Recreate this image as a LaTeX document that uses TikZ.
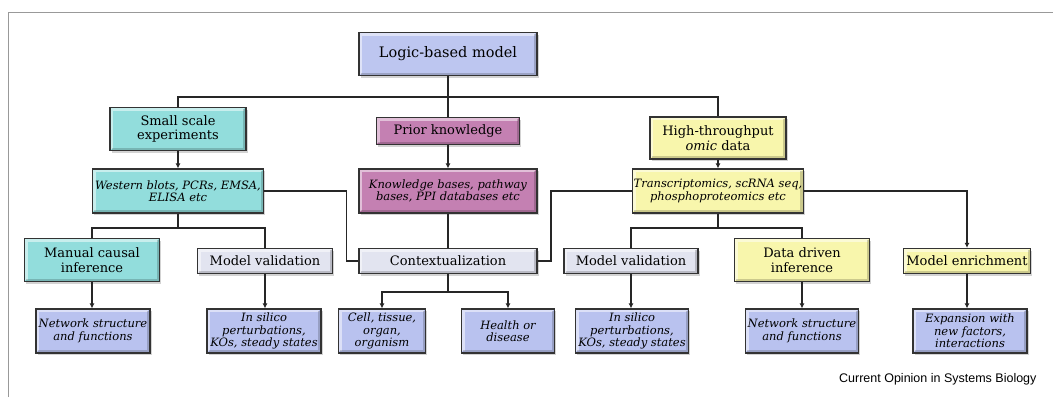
\documentclass[tikz,border=0pt]{standalone}
\usepackage{fontspec}
\setmainfont{DejaVu Serif}
\setsansfont{Liberation Sans}
\usetikzlibrary{arrows.meta,shadows}

\definecolor{logicblue}{RGB}{189,198,240}
\definecolor{leafblue}{RGB}{185,194,239}
\definecolor{expteal}{RGB}{146,221,220}
\definecolor{priormauve}{RGB}{196,128,178}
\definecolor{omicyellow}{RGB}{248,246,172}
\definecolor{stepgray}{RGB}{226,228,240}

\begin{document}
\begin{tikzpicture}[x=1pt,y=-1pt,
  box/.style={draw=black!80,line width=1.2pt,align=center,inner sep=1pt,
    drop shadow={shadow xshift=1.5pt,shadow yshift=-2pt,opacity=.35},
    path picture={
      \draw[white,opacity=.5,line width=2.4pt]
        ([shift={(1.8pt,1.8pt)}]path picture bounding box.south west)
        |- ([shift={(-1.8pt,-1.8pt)}]path picture bounding box.north east);
      \draw[black,opacity=.18,line width=2.4pt]
        ([shift={(1.8pt,1.8pt)}]path picture bounding box.south west)
        -| ([shift={(-1.8pt,-1.8pt)}]path picture bounding box.north east);}},
  label/.style={box,font=\fontsize{13}{14.5}\selectfont},
  detail/.style={box,font=\fontsize{11.5}{12.5}\selectfont\itshape},
  link/.style={line width=1.1pt,black!85},
  tip/.style={link,-{Latex[length=5pt,width=5pt]}}]
\useasboundingbox (0,0) rectangle (1053,397); % adjust bounding box
\draw[black!40,line width=1pt] (8,397) -- (8,12) -- (1053,12);

% top level
\node[label,fill=logicblue,minimum width=178pt,minimum height=43pt,
  font=\fontsize{14.5}{16}\selectfont] (lbm) at (448,54) {Logic-based model};
\node[label,fill=expteal,minimum width=136pt,minimum height=43pt] (sse) at (178,129) {Small scale\\experiments};
\node[label,fill=priormauve,minimum width=143pt,minimum height=27pt] (pk) at (448,131) {Prior knowledge};
\node[label,fill=omicyellow,minimum width=136pt,minimum height=42pt] (hto) at (718,138) {High-throughput\\\emph{omic} data};

% data sources
\node[detail,fill=expteal,minimum width=171pt,minimum height=44pt] (wb) at (178,191) {Western blots, PCRs, EMSA,\\ELISA etc};
\node[detail,fill=priormauve,minimum width=178pt,minimum height=44pt] (kb) at (448,191) {Knowledge bases, pathway\\bases, PPI databases etc};
\node[detail,fill=omicyellow,minimum width=170pt,minimum height=44pt] (tr) at (718,191) {Transcriptomics, scRNA seq,\\phosphoproteomics etc};

% uses
\node[label,fill=expteal,minimum width=135pt,minimum height=43pt] (mci) at (92,260) {Manual causal\\inference};
\node[label,fill=stepgray,minimum width=135pt,minimum height=25pt] (mvl) at (265,261) {Model validation};
\node[label,fill=stepgray,minimum width=178pt,minimum height=25pt] (ctx) at (448,261) {Contextualization};
\node[label,fill=stepgray,minimum width=134pt,minimum height=25pt] (mvr) at (631,261) {Model validation};
\node[label,fill=omicyellow,minimum width=135pt,minimum height=43pt] (ddi) at (802,260) {Data driven\\inference};
\node[label,fill=omicyellow,minimum width=127pt,minimum height=25pt] (me) at (967,261) {Model enrichment};

% outcomes
\node[detail,fill=leafblue,minimum width=114pt,minimum height=44pt] (nsl) at (93,331) {Network structure\\and functions};
\node[detail,fill=leafblue,minimum width=114pt,minimum height=44pt] (isl) at (264,331) {In silico\\perturbations,\\KOs, steady states};
\node[detail,fill=leafblue,minimum width=87pt,minimum height=44pt] (cell) at (382,331) {Cell, tissue,\\organ,\\organism};
\node[detail,fill=leafblue,minimum width=93pt,minimum height=44pt] (hd) at (508,331) {Health or\\disease};
\node[detail,fill=leafblue,minimum width=113pt,minimum height=44pt] (isr) at (632,331) {In silico\\perturbations,\\KOs, steady states};
\node[detail,fill=leafblue,minimum width=113pt,minimum height=44pt] (nsr) at (802,331) {Network structure\\and functions};
\node[detail,fill=leafblue,minimum width=114pt,minimum height=44pt] (exp) at (970,331) {Expansion with\\new factors,\\interactions};

\node[anchor=east,font=\sffamily\fontsize{12.5}{14}\selectfont] (src) at (1040,379) {Current Opinion in Systems Biology};

\coordinate (top) at (448,97);
\coordinate (wbs) at (178,228);
\coordinate (trs) at (718,228);
\coordinate (ctxs) at (448,292);

\draw[link] (lbm.south) -- (pk.north);
\draw[link] (sse.north) |- (top) -| (hto.north);
\draw[tip] (sse.south) -- (wb.north);
\draw[tip] (pk.south) -- (kb.north);
\draw[tip] (hto.south) -- (tr.north);

\draw[link] (wb.south) -- (wbs) -| (mci.north);
\draw[link] (wbs) -| (mvl.north);
\draw[link] (wb.east) -- ++(82,0) |- (ctx.west);
\draw[link] (kb.south) -- (ctx.north);
\draw[link] (tr.west) -- ++(-81,0) |- (ctx.east);
\draw[link] (tr.south) -- (trs) -| (mvr.north);
\draw[link] (trs) -| (ddi.north);
\draw[tip] (tr.east) -| (me.north);

\draw[tip] (mci.south) -- (mci.south |- nsl.north);
\draw[tip] (mvl.south) -- (mvl.south |- isl.north);
\draw[link] (ctx.south) -- (ctxs);
\draw[tip] (ctxs) -| (cell.north);
\draw[tip] (ctxs) -| (hd.north);
\draw[tip] (mvr.south) -- (mvr.south |- isr.north);
\draw[tip] (ddi.south) -- (ddi.south |- nsr.north);
\draw[tip] (me.south) -- (me.south |- exp.north);
\end{tikzpicture}
\end{document}
